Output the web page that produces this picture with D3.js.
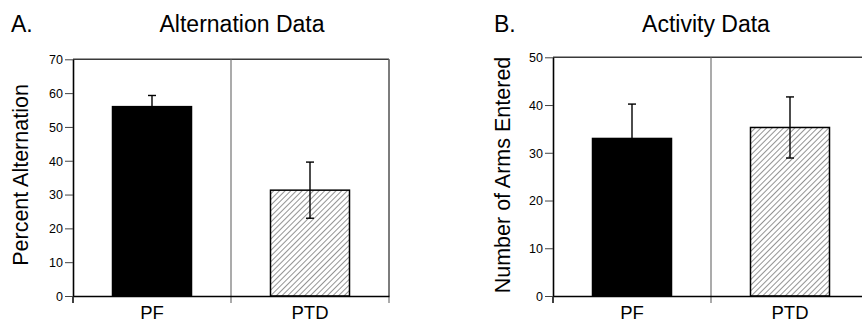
<!DOCTYPE html>
<html>
<head>
<meta charset="utf-8">
<script src="https://cdn.jsdelivr.net/npm/d3@7"></script>
<style>
  body { margin: 0; background: #fff; }
  svg { display: block; font-family: "Liberation Sans", Arial, sans-serif; }
</style>
</head>
<body>
<div id="wrapper"></div>
<script>
// data
const groups = ["PF", "PTD"]

const alternationMean = [56.0, 31.3]
const alternationSem = [3.3, 8.3]
const alternationTicks = [0, 10, 20, 30, 40, 50, 60, 70]

const activityMean = [33.0, 35.3]
const activitySem = [7.2, 6.4]
const activityTicks = [0, 10, 20, 30, 40, 50]

const panelLetters = ["A.", "B."]
const panelTitles = ["Alternation Data", "Activity Data"]
const yLabels = ["Percent Alternation", "Number of Arms Entered"]

function drawPanels() {
  const width = 862
  const height = 323

  const svg = d3.select("#wrapper")
    .append("svg")
      .attr("width", width)
      .attr("height", height)

  // hatch for the PTD bars ("/" lines)
  svg.append("defs")
    .append("pattern")
      .attr("id", "hatch")
      .attr("patternUnits", "userSpaceOnUse")
      .attr("width", 4)
      .attr("height", 4)
      .attr("patternTransform", "rotate(45)")
    .append("line")
      .attr("x1", 0).attr("y1", 0)
      .attr("x2", 0).attr("y2", 4)
      .attr("stroke", "#2a2a2a")
      .attr("stroke-width", 1)

  const panels = [
    {
      left: 73, right: 389, top: 59.3, bottom: 296, max: 70,
      mean: alternationMean, sem: alternationSem, ticks: alternationTicks,
      letterX: 11, titleX: 242, labelX: 28,
    },
    {
      left: 553, right: 869, top: 57.3, bottom: 296, max: 50,
      mean: activityMean, sem: activitySem, ticks: activityTicks,
      letterX: 494, titleX: 706, labelX: 510,
    },
  ]

  panels.forEach((p, i) => {
    const g = svg.append("g")

    const yScale = d3.scaleLinear()
      .domain([0, p.max])
      .range([p.bottom, p.top])

    const xScale = d3.scaleBand()
      .domain(groups)
      .range([p.left, p.right])
      .paddingInner(0.5)
      .paddingOuter(0.25)

    // section scale, used for the dividers between groups
    const sectionScale = d3.scaleLinear()
      .domain([0, groups.length])
      .range([p.left, p.right])

    // frame: top and right
    g.append("line")
      .attr("x1", p.left).attr("x2", p.right)
      .attr("y1", p.top).attr("y2", p.top)
      .attr("stroke", "#3a3a3a")
      .attr("stroke-width", 1.6)
    g.append("line")
      .attr("x1", p.right).attr("x2", p.right)
      .attr("y1", p.top).attr("y2", p.bottom)
      .attr("stroke", "#555")
      .attr("stroke-width", 1.2)

    // dividers + bottom ticks
    g.selectAll(".divider")
      .data(d3.range(groups.length + 1))
      .join("line")
      .attr("class", "divider")
      .attr("x1", d => sectionScale(d))
      .attr("x2", d => sectionScale(d))
      .attr("y1", d => d === 0 ? p.bottom : p.top)
      .attr("y2", p.bottom + 7)
      .attr("stroke", d => d === 0 ? "#000" : "#666")
      .attr("stroke-width", d => d === 0 ? 1.5 : 1.1)

    // bars
    g.selectAll(".bar")
      .data(groups)
      .join("rect")
      .attr("class", "bar")
      .attr("x", d => xScale(d))
      .attr("width", xScale.bandwidth())
      .attr("y", (d, j) => yScale(p.mean[j]))
      .attr("height", (d, j) => p.bottom - yScale(p.mean[j]))
      .attr("fill", (d, j) => j === 0 ? "#000" : "url(#hatch)")
      .attr("stroke", "#000")
      .attr("stroke-width", 1.5)

    // error bars
    const cx = d => xScale(d) + xScale.bandwidth() / 2
    const errs = g.selectAll(".err")
      .data(groups)
      .join("g")
      .attr("class", "err")
      .attr("stroke", "#000")
      .attr("stroke-width", 1.4)
    errs.append("line")
      .attr("x1", cx).attr("x2", cx)
      .attr("y1", (d, j) => yScale(p.mean[j] + p.sem[j]))
      .attr("y2", (d, j) => yScale(p.mean[j] - p.sem[j]))
    errs.append("line")
      .attr("x1", d => cx(d) - 4).attr("x2", d => cx(d) + 4)
      .attr("y1", (d, j) => yScale(p.mean[j] + p.sem[j]))
      .attr("y2", (d, j) => yScale(p.mean[j] + p.sem[j]))
    errs.append("line")
      .attr("x1", d => cx(d) - 4).attr("x2", d => cx(d) + 4)
      .attr("y1", (d, j) => yScale(p.mean[j] - p.sem[j]))
      .attr("y2", (d, j) => yScale(p.mean[j] - p.sem[j]))

    // y axis
    const yAxisGenerator = d3.axisLeft(yScale)
      .tickValues(p.ticks)
      .tickSize(8)
      .tickSizeOuter(0)
      .tickPadding(2)
    const yAxis = g.append("g")
      .attr("transform", `translate(${p.left},0)`)
      .call(yAxisGenerator)
    yAxis.select(".domain").attr("stroke-width", 1.6)
    yAxis.selectAll(".tick line").attr("stroke", "#444")
    yAxis.selectAll("text")
      .attr("font-size", 12.5)
      .attr("font-family", "Liberation Sans, Arial, sans-serif")
      .attr("fill", "#000")
      .attr("dy", "0.35em")

    // x axis
    const xAxisGenerator = d3.axisBottom(xScale)
      .tickSize(0)
      .tickSizeOuter(0)
      .tickPadding(10)
    const xAxis = g.append("g")
      .attr("transform", `translate(0,${p.bottom})`)
      .call(xAxisGenerator)
    xAxis.select(".domain").attr("stroke-width", 1.6)
    xAxis.selectAll("text")
      .attr("font-size", 18.5)
      .attr("font-family", "Liberation Sans, Arial, sans-serif")
      .attr("fill", "#000")

    // labels
    g.append("text")
      .attr("transform", `translate(${p.labelX},${175}) rotate(-90)`)
      .attr("text-anchor", "middle")
      .attr("font-size", 21.5)
      .text(yLabels[i])

    g.append("text")
      .attr("x", p.letterX)
      .attr("y", 31.5)
      .attr("font-size", 23)
      .text(panelLetters[i])

    g.append("text")
      .attr("x", p.titleX)
      .attr("y", 31.5)
      .attr("text-anchor", "middle")
      .attr("font-size", 23)
      .text(panelTitles[i])
  })
}
drawPanels()
</script>
</body>
</html>
